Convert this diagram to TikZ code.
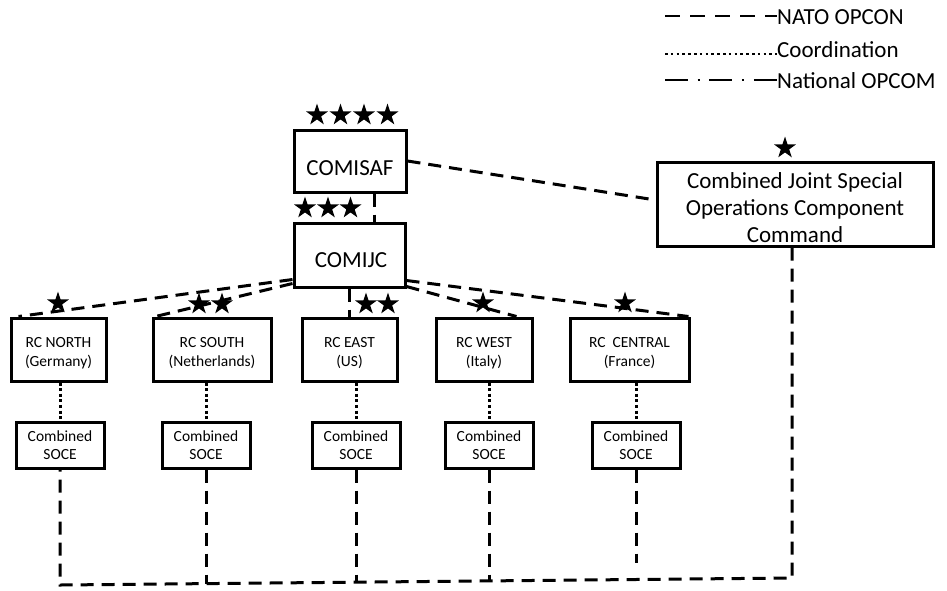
\documentclass[tikz,border=0pt]{standalone}
\usepackage{fontspec}
\setmainfont{Carlito}
\usetikzlibrary{shapes.geometric,calc}
\begin{document}
\begin{tikzpicture}[x=1pt,y=-1pt,
  box/.style={draw, line width=3pt, inner sep=0pt, rectangle},
  big/.style={font=\fontsize{23}{27}\selectfont, inner sep=0pt, align=center},
  small/.style={font=\fontsize{15.5}{19.5}\selectfont, inner sep=0pt, align=center},
  socetxt/.style={font=\fontsize{15.5}{18}\selectfont, inner sep=0pt, align=center},
  nato/.style={line width=3pt, dash pattern=on 13pt off 8pt},
  coordline/.style={line width=3pt, dash pattern=on 3pt off 2.6pt},
  natoleg/.style={line width=2.6pt, dash pattern=on 15pt off 10pt},
  coordleg/.style={line width=2.6pt, dash pattern=on 2.6pt off 3.2pt},
  natleg/.style={line width=2.4pt, dash pattern=on 23pt off 9.5pt on 2.4pt off 9.5pt},
  rank/.style={star, star points=5, star point ratio=2.6, fill=black, draw=none, minimum size=23pt, inner sep=0pt}
]
\useasboundingbox (0,0) rectangle (947,590);
\fill[white] (0,0) rectangle (947,590);

% legend
\node[big, anchor=base west] (l1) at (777,24) {NATO OPCON};
\node[big, anchor=base west] (l2) at (777,57) {Coordination};
\node[big, anchor=base west] (l3) at (777,88) {National OPCOM};
\coordinate (l1s) at (665,16);
\coordinate (l2s) at (665,54);
\coordinate (l3s) at (665,80);
\draw[natoleg] (l1s) -- (l1.west |- l1s);
\draw[coordleg] (l2s) -- (l2.west |- l2s);
\draw[natleg] (l3s) -- (l3.west |- l3s);

% top commands
\node[box, minimum width=112pt, minimum height=62pt] (comisaf) at (350,161) {};
\node[big] (comisaft) at (350,168) {COMISAF};
\node[box, minimum width=111pt, minimum height=64pt] (comijc) at (349.5,255) {};
\node[big] (comijct) at (351,260) {COMIJC};
\node[box, minimum width=276pt, minimum height=84pt] (cjsocc) at (795,204) {};
\node[big] (cjsocct) at (795,208) {Combined Joint Special\\Operations Component\\Command};

% regional commands
\node[box, minimum width=95pt, minimum height=63pt] (rcn) at (58.5,349.5) {};
\node[small] (rcnt) at (58.5,353) {RC NORTH\\(Germany)};
\node[box, minimum width=118pt, minimum height=63pt] (rcs) at (212,349.5) {};
\node[small] (rcst) at (212,353) {RC SOUTH\\(Netherlands)};
\node[box, minimum width=95pt, minimum height=63pt] (rce) at (349.5,349.5) {};
\node[small] (rcet) at (349.5,353) {RC EAST\\(US)};
\node[box, minimum width=96pt, minimum height=63pt] (rcw) at (484,349.5) {};
\node[small] (rcwt) at (484,353) {RC WEST\\(Italy)};
\node[box, minimum width=119pt, minimum height=63pt] (rcc) at (629.5,349.5) {};
\node[small] (rcct) at (629.5,353) {RC~ CENTRAL\\(France)};

% SOCE boxes
\foreach \i/\x in {1/60,2/206,3/356,4/489,5/636}{
  \node[box, minimum width=88pt, minimum height=46pt] (soce\i) at (\x,445) {};
  \node[socetxt] (soce\i t) at (\x,445.5) {Combined\\SOCE};
}

% stars
\node[rank] (sa1) at (317,115) {};
\node[rank] (sa2) at (340.5,115) {};
\node[rank] (sa3) at (364,115) {};
\node[rank] (sa4) at (387.5,115) {};
\node[rank] (sb1) at (305,208) {};
\node[rank] (sb2) at (328,208) {};
\node[rank] (sb3) at (350.5,208) {};
\node[rank] (sc1) at (785,148) {};
\node[rank] (sn1) at (58,303) {};
\node[rank] (ss1) at (199,304) {};
\node[rank] (ss2) at (222,304) {};
\node[rank] (se1) at (366,304) {};
\node[rank] (se2) at (388,304) {};
\node[rank] (sw1) at (483,303) {};
\node[rank] (sx1) at (625,303) {};

% NATO OPCON connectors
\draw[nato] ([xshift=-33pt]comisaf.south east) -- ([xshift=-32pt]comijc.north east);
\draw[nato] (comisaf.east) -- ([yshift=4pt]cjsocc.west);
\draw[nato] ([yshift=9pt]comijc.south west) -- ([xshift=9pt]rcn.north west);
\draw[nato] ([yshift=5pt]comijc.south west) -- ([xshift=4pt]rcs.north west);
\draw[nato] (comijc.south) -- (rce.north);
\draw[nato] ([yshift=2pt]comijc.south east) -- ([xshift=-17pt]rcw.north east);
\draw[nato] ([yshift=8pt]comijc.south east) -- ([xshift=-2pt]rcc.north east);

% coordination
\foreach \i/\r in {1/rcn,2/rcs,3/rce,4/rcw,5/rcc}{
  \draw[coordline] (soce\i.north |- \r.south) -- (soce\i.north);
}

% bottom NATO OPCON line
\coordinate (bl) at (60,585);
\coordinate (br) at (792,578);
\coordinate (j2) at (206,583.6);
\coordinate (j3) at (356,582.2);
\coordinate (j4) at (489,580.9);
\coordinate (e5) at (636,563);
\draw[nato] (br |- cjsocc.south) -- (br) -- (bl) -- (soce1.south);
\draw[nato] (soce2.south) -- (soce2.south |- j2);
\draw[nato] (soce3.south) -- (soce3.south |- j3);
\draw[nato] (soce4.south) -- (soce4.south |- j4);
\draw[nato] (soce5.south) -- (soce5.south |- e5);
\end{tikzpicture}
\end{document}
